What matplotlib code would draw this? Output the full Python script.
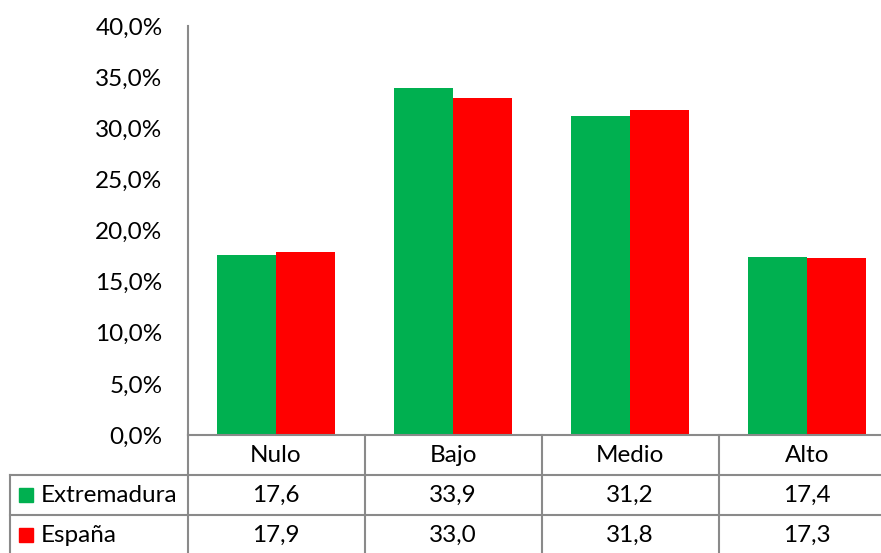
import matplotlib.pyplot as plt
import matplotlib.ticker as ticker
from matplotlib.patches import Rectangle
import numpy as np

categories = ['Nulo', 'Bajo', 'Medio', 'Alto']
series_names = ['Extremadura', 'España']
extremadura = [17.6, 33.9, 31.2, 17.4]
espana = [17.9, 33.0, 31.8, 17.3]
colors = ['#00B050', '#FF0000']

plt.rcParams['font.family'] = ['Lato', 'DejaVu Sans']
FS = 17.5
GRAY = '#8A8A8A'

W, H = 881, 553
fig = plt.figure(figsize=(W / 100, H / 100), dpi=100)

# plot area in pixels (right edge runs past the picture, as in the source)
L, R, T, B = 187.5, 895.5, 26, 435
ax = fig.add_axes([L / W, 1 - B / H, (R - L) / W, (B - T) / H])

x = np.arange(len(categories))
bw = 0.333
for k, vals in enumerate([extremadura, espana]):
    ax.bar(x + (k - 0.5) * bw, np.array(vals) / 100, width=bw, color=colors[k])

ax.set_xlim(-0.5, len(categories) - 0.5)
ax.set_ylim(0, 0.40)
ax.set_yticks(np.arange(0, 0.401, 0.05))
ax.yaxis.set_major_formatter(ticker.FuncFormatter(lambda v, p: ('%.1f%%' % (v * 100)).replace('.', ',')))
ax.tick_params(axis='y', length=0, pad=18, labelsize=FS)
ax.set_xticks([])
for s in ['top', 'right']:
    ax.spines[s].set_visible(False)
for s in ['left', 'bottom']:
    ax.spines[s].set_color(GRAY)
    ax.spines[s].set_linewidth(1.5)

# data table below, y in pixels from the axis line
tax = fig.add_axes([L / W, 0, (R - L) / W, (H - B) / H])
tax.set_xlim(-0.5, len(categories) - 0.5)
tax.set_ylim(H - B, 0)
tax.axis('off')
colw = (R - L) / len(categories)
xleft = -0.5 - (L - 10) / colw
rowh = 40
lk = dict(color=GRAY, lw=1.5, clip_on=False, solid_capstyle='projecting')
for i in range(len(categories) + 1):
    tax.plot([i - 0.5, i - 0.5], [0, H - B], **lk)
tax.plot([xleft, xleft], [rowh, H - B], **lk)
for r in [1, 2]:
    tax.plot([xleft, len(categories) - 0.5], [r * rowh, r * rowh], **lk)

for i, c in enumerate(categories):
    tax.text(i, rowh * 0.5, c, ha='center', va='center', fontsize=FS)
    for k, vals in enumerate([extremadura, espana]):
        tax.text(i, rowh * (k + 1.5), ('%.1f' % vals[i]).replace('.', ','),
                 ha='center', va='center', fontsize=FS)

px = 1 / colw
for k, name in enumerate(series_names):
    yc = rowh * (k + 1.5)
    tax.add_patch(Rectangle((xleft + 9 * px, yc - 7), 14 * px, 14, color=colors[k], clip_on=False))
    tax.text(xleft + 31 * px, yc, name, ha='left', va='center', fontsize=FS, clip_on=False)

fig.savefig('out.png', dpi=100)
